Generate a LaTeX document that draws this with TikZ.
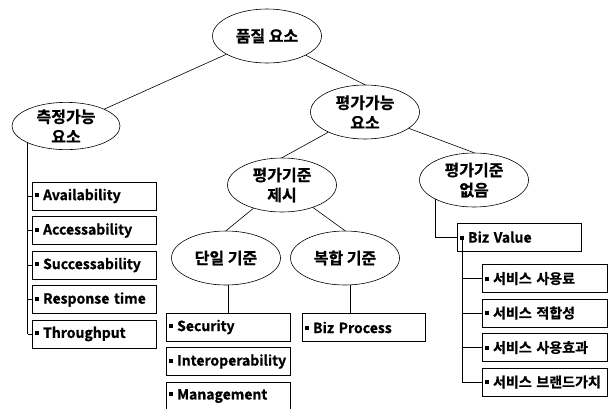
\documentclass[tikz,border=0pt]{standalone}
\usepackage{fontspec}
\usetikzlibrary{shapes.geometric}
\newfontfamily\kr{Noto Sans CJK KR}[BoldFont={Noto Sans CJK KR Bold},BoldFeatures={FakeBold=0.8}]
\newcommand{\bul}{\rule[0.22em]{0.28em}{0.28em}\hspace{0.3em}}

\begin{document}
\begin{tikzpicture}[x=1pt,y=-1pt,line width=0.6pt,
    ell/.style={draw,ellipse,minimum width=109pt,minimum height=54pt,inner sep=0pt,
      align=center,font=\kr\bfseries\fontsize{16}{20}\selectfont},
    box/.style={draw,rectangle,minimum height=28pt,text width=118pt,inner xsep=3pt,
      inner ysep=0pt,align=left,font=\kr\bfseries\fontsize{14}{16}\selectfont}]
    \useasboundingbox (0,0) rectangle (608,408);
    \node[ell] (root) at (267,36) {품질 요소};
    \node[ell,minimum width=108pt,minimum height=46pt] (meas) at (66,126) {측정가능\\요소};
    \node[ell] (eval) at (365,112) {평가가능\\요소};
    \node[ell] (crit) at (282,185) {평가기준\\제시};
    \node[ell] (nocrit) at (474,180) {평가기준\\없음};
    \node[ell] (single) at (226,258) {단일 기준};
    \node[ell] (multi) at (345,258) {복합 기준};
    \draw (root) -- (meas.north east);
    \draw (root) -- (eval.north);
    \draw (eval) -- (crit.north);
    \draw (eval) -- (nocrit.north);
    \draw (crit) -- (single.north);
    \draw (crit) -- (multi.north);
    % measurable items
    \foreach \name/\txt [count=\i from 0] in {avail/Availability,acc/Accessability,succ/Successability,resp/Response time,thru/Throughput}{%
        \node[box] (\name) at (94,196+34.5*\i) {\mbox{\bul\txt}};
        \draw (meas.south west |- \name.west) -- (\name.west);
    }
    \draw (meas.south west) -- (meas.south west |- thru.west);
    % single criteria
    \foreach \name/\txt [count=\i from 0] in {sec/Security,inter/Interoperability,mgmt/Management}{%
        \node[box] (\name) at (228,327+34.5*\i) {\mbox{\bul\txt}};
    }
    \draw ([xshift=2pt]single.south) -- ([xshift=2pt]single.south |- sec.north);
    \node[box,text width=117pt] (proc) at (363.5,327.5) {\bul Biz Process};
    \draw ([xshift=5pt]multi.south) -- ([xshift=5pt]multi.south |- proc.north);
    % no criteria
    \node[box] (biz) at (519,237) {\bul Biz Value};
    \draw (nocrit.south west) |- (biz.west);
    \coordinate (bizdot) at ([xshift=5.5pt]biz.west);
    \foreach \name/\txt [count=\i from 0] in {fee/서비스 사용료,fit/서비스 적합성,eff/서비스 사용효과,brand/서비스 브랜드가치}{%
        \node[box,text width=119pt] (\name) at (544.5,278.5+34.5*\i) {\mbox{\bul\txt}};
        \draw (bizdot |- \name.west) -- (\name.west);
    }
    \draw (bizdot) -- (bizdot |- brand.west);
\end{tikzpicture}
\end{document}
